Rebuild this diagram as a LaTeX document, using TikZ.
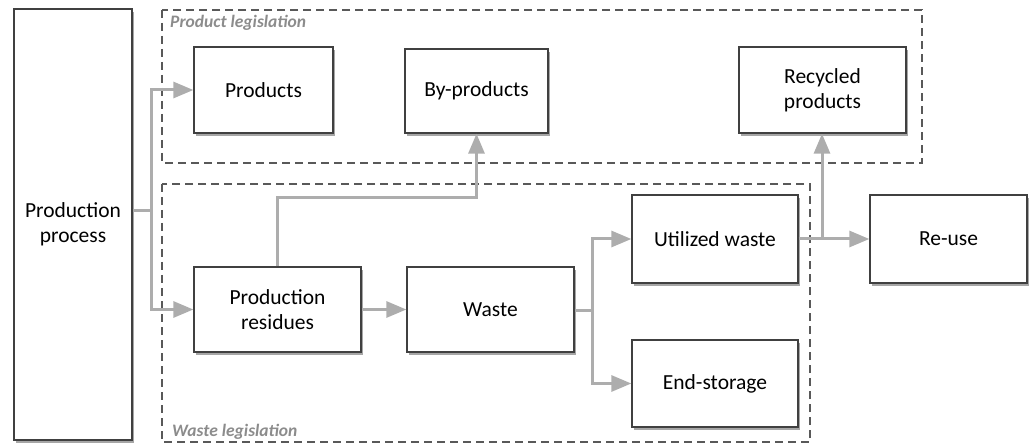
\documentclass[tikz,border=0pt]{standalone}
\usepackage{fontspec}
\setmainfont{Carlito}
\usetikzlibrary{arrows.meta,shadows,calc}
\begin{document}
\begin{tikzpicture}[x=1pt,y=-1pt,
  box/.style={draw=black!75,line width=1.3pt,fill=white,inner sep=0pt,
    font=\fontsize{21.5}{25}\selectfont,align=center,
    drop shadow={shadow xshift=1.5pt,shadow yshift=-3pt,opacity=0.35,fill=black}},
  conn/.style={draw=black!32,line width=3pt,
    -{Triangle[length=20pt,width=16pt]}},
  plain/.style={draw=black!32,line width=3pt},
  legal/.style={draw=black!65,line width=1.3pt,dash pattern=on 8pt off 5pt},
  legallabel/.style={text=black!45,font=\fontsize{17.5}{20}\selectfont\bfseries\itshape,anchor=west,inner sep=0pt}]
\useasboundingbox (0,0) rectangle (1030,446);
% legislation frames
\draw[legal] (162,10) rectangle (922,163);
\draw[legal] (162,184) rectangle (810,442);
\node[legallabel] (pl) at (170,23) {Product legislation};
\node[legallabel] (wl) at (172,432) {Waste legislation};
% boxes
\node[box,minimum width=118pt,minimum height=431pt] (pp) at (73,224.5) {Production\\process};
\node[box,minimum width=139pt,minimum height=86pt] (prod) at (263.5,90) {Products};
\node[box,minimum width=143pt,minimum height=84pt] (byp) at (476.5,91) {By-products};
\node[box,minimum width=167pt,minimum height=86pt] (rec) at (822.5,90) {Recycled\\products};
\node[box,minimum width=167pt,minimum height=85pt] (res) at (277.5,309.5) {Production\\residues};
\node[box,minimum width=167pt,minimum height=85pt] (waste) at (490.5,309.5) {Waste};
\node[box,minimum width=166pt,minimum height=88pt] (util) at (715,239) {Utilized waste};
\node[box,minimum width=166pt,minimum height=87pt] (end) at (715,383.5) {End-storage};
\node[box,minimum width=157pt,minimum height=88pt] (reuse) at (948.5,239) {Re-use};
% connector junctions
\coordinate (j1) at (151,211);
\coordinate (j2) at (592,310);
\coordinate (j3) at (822,239);
\coordinate (rtop) at (277,198);
% connectors
\draw[plain] (pp.east |- j1) -- (j1);
\draw[conn] (j1) |- (prod.west);
\draw[conn] (j1) |- (res.west);
\draw[conn] (res.north -| rtop) -- (rtop) -| (byp.south);
\draw[conn] (res.east) -- (waste.west);
\draw[plain] (waste.east |- j2) -- (j2);
\draw[conn] (j2) |- (util.west);
\draw[conn] (j2) |- (end.west);
\draw[conn] (util.east) -- (reuse.west);
\draw[conn] (j3) -- (rec.south -| j3);
\end{tikzpicture}
\end{document}
